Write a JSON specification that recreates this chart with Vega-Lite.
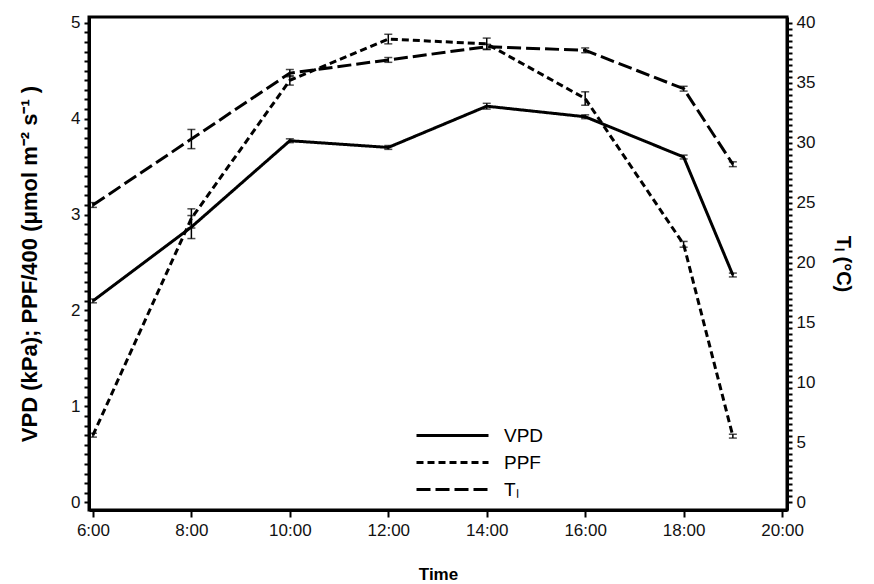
{
  "$schema": "https://vega.github.io/schema/vega-lite/v6.json",
  "autosize": "none",
  "width": 698,
  "height": 493,
  "padding": {"left": 89, "top": 17, "right": 87, "bottom": 74},
  "background": "white",
  "data": {
    "values": [
      {"time": 6, "series": "VPD", "value": 2.1, "lo": 2.08, "hi": 2.12},
      {"time": 8, "series": "VPD", "value": 2.87, "lo": 2.75, "hi": 2.99},
      {"time": 10, "series": "VPD", "value": 3.77, "lo": 3.75, "hi": 3.79},
      {"time": 12, "series": "VPD", "value": 3.7, "lo": 3.68, "hi": 3.72},
      {"time": 14, "series": "VPD", "value": 4.13, "lo": 4.1, "hi": 4.16},
      {"time": 16, "series": "VPD", "value": 4.02, "lo": 4.0, "hi": 4.04},
      {"time": 18, "series": "VPD", "value": 3.6, "lo": 3.58, "hi": 3.62},
      {"time": 19, "series": "VPD", "value": 2.37, "lo": 2.35, "hi": 2.39},
      {"time": 6, "series": "PPF", "value": 0.7, "lo": 0.68, "hi": 0.72},
      {"time": 8, "series": "PPF", "value": 2.96, "lo": 2.86, "hi": 3.06},
      {"time": 10, "series": "PPF", "value": 4.4, "lo": 4.35, "hi": 4.45},
      {"time": 12, "series": "PPF", "value": 4.83, "lo": 4.78, "hi": 4.88},
      {"time": 14, "series": "PPF", "value": 4.78, "lo": 4.72, "hi": 4.84},
      {"time": 16, "series": "PPF", "value": 4.21, "lo": 4.14, "hi": 4.28},
      {"time": 18, "series": "PPF", "value": 2.69, "lo": 2.66, "hi": 2.72},
      {"time": 19, "series": "PPF", "value": 0.69, "lo": 0.67, "hi": 0.71},
      {"time": 6, "series": "Tl", "value": 24.8, "lo": 24.6, "hi": 25.0},
      {"time": 8, "series": "Tl", "value": 30.3, "lo": 29.5, "hi": 31.1},
      {"time": 10, "series": "Tl", "value": 35.8, "lo": 35.5, "hi": 36.1},
      {"time": 12, "series": "Tl", "value": 36.9, "lo": 36.7, "hi": 37.1},
      {"time": 14, "series": "Tl", "value": 38.0, "lo": 37.8, "hi": 38.2},
      {"time": 16, "series": "Tl", "value": 37.7, "lo": 37.5, "hi": 37.9},
      {"time": 18, "series": "Tl", "value": 34.5, "lo": 34.3, "hi": 34.7},
      {"time": 19, "series": "Tl", "value": 28.2, "lo": 28.0, "hi": 28.4}
    ]
  },
  "layer": [
    {
      "transform": [{"filter": "datum.series != 'Tl'"}],
      "layer": [
        {
          "mark": {"type": "line", "strokeWidth": 3, "color": "black", "strokeCap": "butt"},
          "encoding": {
            "x": {
              "field": "time", "type": "quantitative",
              "scale": {"domain": [5.92, 20.1], "nice": false, "zero": false},
              "axis": {
                "values": [6, 8, 10, 12, 14, 16, 18, 20],
                "labelExpr": "datum.value + ':00'",
                "title": "Time",
                "ticks": true,
                "tickColor": "black",
                "tickWidth": 2,
                "tickSize": 7,
                "labelPadding": 5,
                "titlePadding": 28
              }
            },
            "y": {
              "field": "value", "type": "quantitative",
              "scale": {"domain": [-0.08, 5.06], "nice": false, "zero": false},
              "title": "VPD (kPa); PPF/400  (μmol m⁻²  s⁻¹ )",
              "axis": {
                "orient": "left",
                "values": [0, 0.1, 0.2, 0.3, 0.4, 0.5, 0.6, 0.7, 0.8, 0.9, 1, 1.1, 1.2, 1.3, 1.4, 1.5, 1.6, 1.7, 1.8, 1.9, 2, 2.1, 2.2, 2.3, 2.4, 2.5, 2.6, 2.7, 2.8, 2.9, 3, 3.1, 3.2, 3.3, 3.4, 3.5, 3.6, 3.7, 3.8, 3.9, 4, 4.1, 4.2, 4.3, 4.4, 4.5, 4.6, 4.7, 4.8, 4.9, 5],
                "labelExpr": "datum.value % 1 === 0 ? format(datum.value, 'd') : ''",
                "ticks": true,
                "tickColor": "black",
                "tickWidth": 2,
                "tickSize": 5,
                "titleFontSize": 22,
                "titlePadding": 29
              }
            },
            "strokeDash": {
              "field": "series", "type": "nominal",
              "scale": {"domain": ["VPD", "PPF", "Tl"], "range": [[1, 0], [7, 4], [14, 5]]},
              "legend": {
                "labelExpr": "datum.label == 'Tl' ? 'Tₗ' : datum.label"
              }
            }
          }
        },
        {
          "mark": {"type": "errorbar", "color": "black", "thickness": 1.5, "ticks": {"size": 8, "thickness": 1.5, "color": "black"}},
          "encoding": {
            "x": {"field": "time", "type": "quantitative"},
            "y": {
              "field": "lo", "type": "quantitative",
              "title": "VPD (kPa); PPF/400  (μmol m⁻²  s⁻¹ )",
              "axis": {
                "orient": "left",
                "values": [0, 0.1, 0.2, 0.3, 0.4, 0.5, 0.6, 0.7, 0.8, 0.9, 1, 1.1, 1.2, 1.3, 1.4, 1.5, 1.6, 1.7, 1.8, 1.9, 2, 2.1, 2.2, 2.3, 2.4, 2.5, 2.6, 2.7, 2.8, 2.9, 3, 3.1, 3.2, 3.3, 3.4, 3.5, 3.6, 3.7, 3.8, 3.9, 4, 4.1, 4.2, 4.3, 4.4, 4.5, 4.6, 4.7, 4.8, 4.9, 5],
                "labelExpr": "datum.value % 1 === 0 ? format(datum.value, 'd') : ''",
                "ticks": true,
                "tickColor": "black",
                "tickWidth": 2,
                "tickSize": 5,
                "titleFontSize": 22,
                "titlePadding": 29
              }
            },
            "y2": {"field": "hi"}
          }
        }
      ]
    },
    {
      "transform": [{"filter": "datum.series == 'Tl'"}],
      "layer": [
        {
          "mark": {"type": "line", "strokeWidth": 3, "color": "black", "strokeCap": "butt"},
          "encoding": {
            "x": {"field": "time", "type": "quantitative"},
            "y": {
              "field": "value", "type": "quantitative",
              "scale": {"domain": [-0.64, 40.48], "nice": false, "zero": false},
              "title": "Tₗ (°C)",
              "axis": {
                "orient": "right",
                "values": [0, 0.5, 1, 1.5, 2, 2.5, 3, 3.5, 4, 4.5, 5, 5.5, 6, 6.5, 7, 7.5, 8, 8.5, 9, 9.5, 10, 10.5, 11, 11.5, 12, 12.5, 13, 13.5, 14, 14.5, 15, 15.5, 16, 16.5, 17, 17.5, 18, 18.5, 19, 19.5, 20, 20.5, 21, 21.5, 22, 22.5, 23, 23.5, 24, 24.5, 25, 25.5, 26, 26.5, 27, 27.5, 28, 28.5, 29, 29.5, 30, 30.5, 31, 31.5, 32, 32.5, 33, 33.5, 34, 34.5, 35, 35.5, 36, 36.5, 37, 37.5, 38, 38.5, 39, 39.5, 40],
                "labelExpr": "datum.value % 5 === 0 ? format(datum.value, 'd') : ''",
                "ticks": true,
                "tickColor": "black",
                "tickWidth": 2,
                "tickSize": 5,
                "titleFontSize": 20,
                "titlePadding": 18
              }
            },
            "strokeDash": {"field": "series", "type": "nominal"}
          }
        },
        {
          "mark": {"type": "errorbar", "color": "black", "thickness": 1.5, "ticks": {"size": 8, "thickness": 1.5, "color": "black"}},
          "encoding": {
            "x": {"field": "time", "type": "quantitative"},
            "y": {
              "field": "lo", "type": "quantitative",
              "title": "Tₗ (°C)",
              "axis": {
                "orient": "right",
                "values": [0, 0.5, 1, 1.5, 2, 2.5, 3, 3.5, 4, 4.5, 5, 5.5, 6, 6.5, 7, 7.5, 8, 8.5, 9, 9.5, 10, 10.5, 11, 11.5, 12, 12.5, 13, 13.5, 14, 14.5, 15, 15.5, 16, 16.5, 17, 17.5, 18, 18.5, 19, 19.5, 20, 20.5, 21, 21.5, 22, 22.5, 23, 23.5, 24, 24.5, 25, 25.5, 26, 26.5, 27, 27.5, 28, 28.5, 29, 29.5, 30, 30.5, 31, 31.5, 32, 32.5, 33, 33.5, 34, 34.5, 35, 35.5, 36, 36.5, 37, 37.5, 38, 38.5, 39, 39.5, 40],
                "labelExpr": "datum.value % 5 === 0 ? format(datum.value, 'd') : ''",
                "ticks": true,
                "tickColor": "black",
                "tickWidth": 2,
                "tickSize": 5,
                "titleFontSize": 20,
                "titlePadding": 18
              }
            },
            "y2": {"field": "hi"}
          }
        }
      ]
    }
  ],
  "resolve": {"scale": {"y": "independent"}},
  "config": {
    "view": {"stroke": "black", "strokeWidth": 3},
    "axis": {
      "grid": false,
      "domainColor": "black",
      "domainWidth": 3,
      "labelFont": "Liberation Sans",
      "labelFontSize": 17,
      "labelColor": "#111",
      "labelPadding": 4,
      "titleFont": "Liberation Sans",
      "titleFontSize": 17,
      "titleFontWeight": "bold",
      "titleColor": "black"
    },
    "legend": {
      "orient": "none",
      "legendX": 326,
      "legendY": 406,
      "title": null,
      "padding": 0,
      "symbolType": "stroke",
      "symbolSize": 5184,
      "symbolStrokeWidth": 3,
      "symbolStrokeColor": "black",
      "clipHeight": 25,
      "labelFont": "Liberation Sans",
      "labelFontSize": 19,
      "labelColor": "black",
      "labelOffset": 14
    }
  }
}
